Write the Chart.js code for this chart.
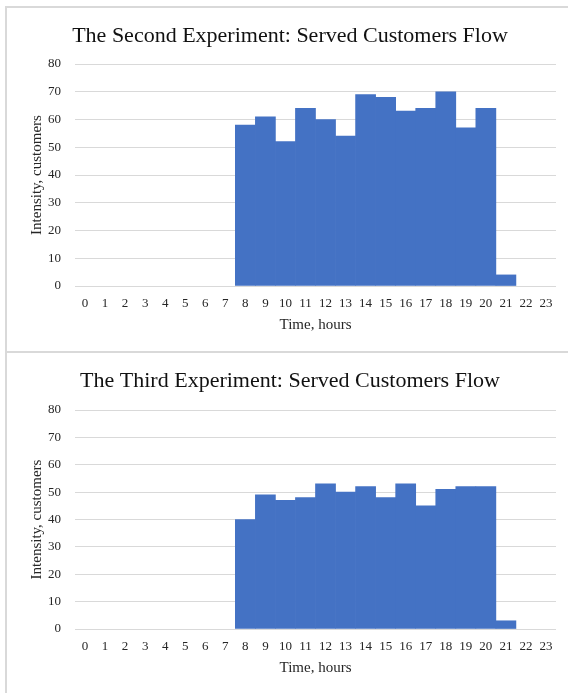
<!DOCTYPE html>
<html>
<head>
<meta charset="utf-8">
<script src="https://cdn.jsdelivr.net/npm/chart.js@4.4.1/dist/chart.umd.min.js"></script>
<style>
  html, body { margin: 0; padding: 0; background: #fff; overflow: hidden; width: 568px; height: 693px; }
  .box { position: absolute; left: 5px; width: 600px; border: 2px solid #d9d9d9; box-sizing: border-box; }
  #box1 { top: 6px; height: 347px; }
  #box2 { top: 351px; height: 360px; }
  .wrap { position: absolute; left: 7px; }
  #wrap1 { top: 8px; width: 561px; height: 342px; }
  #wrap2 { top: 353px; width: 561px; height: 340px; }
</style>
</head>
<body>
<div class="box" id="box1"></div>
<div class="box" id="box2"></div>
<div class="wrap" id="wrap1"><canvas id="chart1"></canvas></div>
<div class="wrap" id="wrap2"><canvas id="chart2"></canvas></div>
<script>
// Hour of day (x-axis categories)
const hours = ['0','1','2','3','4','5','6','7','8','9','10','11','12','13','14','15','16','17','18','19','20','21','22','23'];

// Customers served per hour
const secondFlow = [0,0,0,0,0,0,0,0,58,61,52,64,60,54,69,68,63,64,70,57,64,4,0,0];
const thirdFlow  = [0,0,0,0,0,0,0,0,40,49,47,48,53,50,52,48,53,45,51,52,52,3,0,0];

// Y-axis ticks
const yTicks = [0,10,20,30,40,50,60,70,80];

const titles = [
  'The Second Experiment: Served Customers Flow',
  'The Third Experiment: Served Customers Flow'
];

const serif = "'Liberation Serif', 'Times New Roman', serif";
const barBlue = '#4472C4';
const gridGray = '#d9d9d9';
const textColor = '#262626';

function makeChart(canvasId, title, values, titlePadBottom) {
  return new Chart(document.getElementById(canvasId), {
    type: 'bar',
    data: {
      labels: hours,
      datasets: [{
        data: values,
        // empty hours leave no sliver on the baseline
        backgroundColor: (ctx) => (ctx.raw === 0 ? 'rgba(0,0,0,0)' : barBlue),
        borderWidth: 0,
        barPercentage: 1.0,
        categoryPercentage: 1.0
      }]
    },
    options: {
      responsive: true,
      maintainAspectRatio: false,
      animation: false,
      layout: { padding: { left: 17, right: 12, top: 0, bottom: 0 } },
      plugins: {
        legend: { display: false },
        tooltip: { enabled: false },
        title: {
          display: true,
          text: title,
          color: '#111',
          font: { family: serif, size: 22, weight: 'normal' },
          padding: { top: 15, bottom: titlePadBottom }
        }
      },
      scales: {
        x: {
          grid: { display: false, drawTicks: false },
          border: { display: false },
          ticks: {
            color: textColor,
            font: { family: serif, size: 13 },
            padding: 10,
            maxRotation: 0,
            autoSkip: false
          },
          title: {
            display: true,
            text: 'Time, hours',
            color: textColor,
            font: { family: serif, size: 15 },
            padding: { top: 0, bottom: 16 }
          },
          afterFit: (s) => { s.height = 64; }
        },
        y: {
          min: yTicks[0],
          max: yTicks[yTicks.length - 1],
          grid: { color: gridGray, lineWidth: 1, drawTicks: false },
          border: { display: false },
          afterBuildTicks: (s) => { s.ticks = yTicks.map(v => ({ value: v })); },
          ticks: {
            color: textColor,
            font: { family: serif, size: 13 },
            padding: 14
          },
          title: {
            display: true,
            text: 'Intensity, customers',
            color: textColor,
            font: { family: serif, size: 15 },
            padding: { top: 4, bottom: 0 }
          },
          afterFit: (s) => { s.width = 51; }
        }
      }
    }
  });
}

makeChart('chart1', titles[0], secondFlow, 14.6);
makeChart('chart2', titles[1], thirdFlow, 15.6);
</script>
</body>
</html>
